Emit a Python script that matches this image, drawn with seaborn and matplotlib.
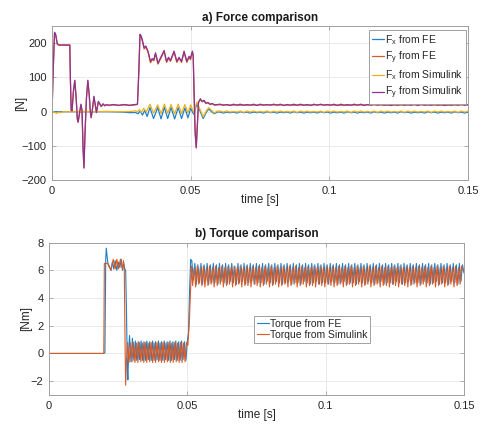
import numpy as np
import pandas as pd
import seaborn as sns
import matplotlib.pyplot as plt

# ---- force data (a) ----
# transient parts as (time [s], force [N]) points
fx_fe_pts = [(0, 0), (0.004, 0), (0.010, 0), (0.020, 0), (0.025, -1), (0.0285, -3),
             (0.0300, -2), (0.0310, -6), (0.0318, 2), (0.0326, -10), (0.0334, 4),
             (0.0343, -14), (0.0353, 12), (0.0366, -20), (0.0381, 12), (0.0393, -21),
             (0.0405, 13), (0.0417, -20), (0.0429, 12), (0.0442, -21), (0.0455, 12),
             (0.0467, -20), (0.0479, 11), (0.0490, -18), (0.0500, 10), (0.0507, -2),
             (0.0512, -8), (0.0517, 10), (0.0522, 22), (0.0532, 5), (0.0545, -20),
             (0.0556, -2), (0.0565, 8), (0.0575, 0), (0.0585, -6), (0.0596, -1)]
fx_sim_pts = [(0, 0), (0.0010, -2), (0.0017, -5), (0.0024, -1), (0.0030, -3), (0.0040, 0),
              (0.0070, 0), (0.0100, 1), (0.0150, 0), (0.0200, 1), (0.0250, 0), (0.0290, 1),
              (0.0300, 3), (0.0308, 0), (0.0315, 6), (0.0322, -2), (0.0330, 10), (0.0340, 0),
              (0.0353, 22), (0.0366, -4), (0.0381, 20), (0.0393, -5), (0.0405, 22),
              (0.0417, -4), (0.0429, 21), (0.0442, -6), (0.0455, 22), (0.0467, -5),
              (0.0479, 21), (0.0490, -3), (0.0500, 20), (0.0507, 5), (0.0512, -3),
              (0.0517, 15), (0.0522, 28), (0.0532, 10), (0.0545, -15), (0.0556, 2),
              (0.0565, 12), (0.0575, 4), (0.0585, -4), (0.0596, 2)]
fy_sim_pts = [(0, 0), (0.0004, 120), (0.0009, 232), (0.0013, 226), (0.0019, 198),
              (0.0025, 195), (0.0064, 195), (0.0066, 100), (0.0069, 5), (0.0072, 2),
              (0.0077, 60), (0.0082, 92), (0.0087, 40), (0.0091, -20), (0.0094, -30),
              (0.0099, -5), (0.0104, 22), (0.0108, 5), (0.0112, -110), (0.0115, -165),
              (0.0119, -60), (0.0124, 40), (0.0129, 92), (0.0134, 50), (0.0138, 0),
              (0.0141, -17), (0.0146, 10), (0.0151, 45), (0.0156, 20), (0.0160, -2),
              (0.0167, 30), (0.0173, 22), (0.0177, 16), (0.0184, 23), (0.0190, 18),
              (0.0197, 21), (0.0205, 19), (0.0220, 21), (0.0240, 19), (0.0260, 21),
              (0.0280, 19), (0.0300, 21), (0.0308, 22), (0.0313, 120), (0.0317, 226),
              (0.0321, 222), (0.0325, 212), (0.0332, 187), (0.0338, 192), (0.0346, 177),
              (0.0355, 147), (0.0361, 155), (0.0367, 152), (0.0373, 172), (0.0382, 142),
              (0.0394, 162), (0.0404, 179), (0.0413, 147), (0.0420, 159), (0.0427, 150),
              (0.0440, 177), (0.0450, 147), (0.0458, 159), (0.0467, 147), (0.0476, 177),
              (0.0486, 147), (0.0494, 162), (0.0499, 155), (0.0506, 177), (0.0509, 165),
              (0.0512, 60), (0.0516, -60), (0.0520, -106), (0.0524, -40), (0.0528, 28),
              (0.0535, 38), (0.0541, 30), (0.0548, 33), (0.0555, 25), (0.0562, 27),
              (0.0570, 22), (0.0578, 24), (0.0586, 20), (0.0596, 21)]
fy_fe_pts = [(0, 0), (0.0004, 118), (0.0009, 230), (0.0013, 224), (0.0019, 197),
             (0.0025, 194), (0.0064, 194), (0.0066, 98), (0.0069, 3), (0.0072, 1),
             (0.0077, 58), (0.0082, 90), (0.0087, 38), (0.0091, -22), (0.0094, -31),
             (0.0099, -6), (0.0104, 20), (0.0108, 3), (0.0112, -112), (0.0115, -163),
             (0.0119, -58), (0.0124, 38), (0.0129, 90), (0.0134, 48), (0.0138, -1),
             (0.0141, -18), (0.0146, 9), (0.0151, 43), (0.0156, 19), (0.0160, -3),
             (0.0167, 29), (0.0173, 21), (0.0177, 15), (0.0184, 22), (0.0190, 17),
             (0.0197, 20), (0.0205, 18), (0.0220, 20), (0.0240, 18), (0.0260, 20),
             (0.0280, 18), (0.0300, 20), (0.0308, 21), (0.0313, 118), (0.0317, 224),
             (0.0321, 219), (0.0325, 208), (0.0332, 183), (0.0338, 189), (0.0346, 174),
             (0.0355, 143), (0.0361, 152), (0.0367, 149), (0.0373, 169), (0.0382, 139),
             (0.0394, 159), (0.0404, 176), (0.0413, 144), (0.0420, 156), (0.0427, 147),
             (0.0440, 174), (0.0450, 144), (0.0458, 156), (0.0467, 144), (0.0476, 174),
             (0.0486, 144), (0.0494, 159), (0.0499, 152), (0.0506, 174), (0.0509, 162),
             (0.0512, 58), (0.0516, -62), (0.0520, -104), (0.0524, -38), (0.0528, 26),
             (0.0535, 36), (0.0541, 29), (0.0548, 31), (0.0555, 24), (0.0562, 26),
             (0.0570, 21), (0.0578, 23), (0.0586, 19), (0.0596, 20)]

# steady ripple from 0.0606 s to 0.15 s, evenly sampled
fx_fe_steady = [-1, -4, -1, -3, -1, -4, 0, -3, -1, -4, -1, -3, -1, -4, 0, -3, -1, -4, -1, -3,
                -1, -4, 0, -3, -1, -4, -1, -3, -1, -4, 0, -3, -1, -4, -1, -3, -1, -4, 0, -3,
                -1, -4, -1, -3, -1, -4, 0, -3, -1, -4, -1, -3, -1, -4, 0, -3, -1, -4, -1, -3,
                -1, -4, 0, -3, -1, -4, -1, -3, -1, -4, 0, -3, -1, -4, -1]
fx_sim_steady = [2, -1, 2, -1, 1, -1, 2, -2, 2, -1, 2, -1, 1, -1, 2, -2, 2, -1, 2, -1,
                 1, -1, 2, -2, 2, -1, 2, -1, 1, -1, 2, -2, 2, -1, 2, -1, 1, -1, 2, -2,
                 2, -1, 2, -1, 1, -1, 2, -2, 2, -1, 2, -1, 1, -1, 2, -2, 2, -1, 2, -1,
                 1, -1, 2, -2, 2, -1, 2, -1, 1, -1, 2, -2, 2, -1, 2]
fy_fe_steady = [20, 19, 20, 19, 20, 19, 20, 19, 20, 19, 20]
fy_sim_steady = [22, 19, 21, 18, 22, 19, 22, 19, 21, 19, 22, 18, 22, 19, 21, 19, 22, 19, 22, 18,
                 21, 19, 22, 19, 22, 19, 21, 18, 22, 19, 22, 19, 21, 19, 22, 18, 22, 19, 21, 19,
                 22, 19, 22, 18, 21, 19, 22, 19, 22, 19, 21, 18, 22, 19, 22, 19, 21, 19, 22, 18,
                 22, 19, 21, 19, 22, 19, 22, 18, 21, 19, 22, 19, 22, 19, 21]

# ---- torque data (b) ----
tq_fe_start = [(0, 0), (0.0198, 0), (0.0202, 0.05), (0.0205, 6.8), (0.0207, 7.6), (0.0210, 7.0),
               (0.0213, 6.5), (0.0218, 6.3), (0.0224, 6.0), (0.0229, 6.6), (0.0234, 6.1),
               (0.0239, 6.7), (0.0245, 6.0), (0.0250, 6.6), (0.0256, 6.2), (0.0261, 6.8),
               (0.0266, 6.0), (0.0270, 6.5), (0.0274, 6.1), (0.0277, 6.0), (0.0280, 3.0),
               (0.0283, -1.0), (0.0285, -1.9), (0.0288, 0.2)]
tq_fe_ripple1 = [1.3, -0.6, 1.1, -0.5, 0.9, -0.5, 0.85, -0.45, 0.9, -0.5, 0.85, -0.5, 0.9, -0.45,
                 0.85, -0.5, 0.9, -0.5, 0.85, -0.45, 0.9, -0.5, 0.85, -0.5, 0.9, -0.45, 0.85,
                 -0.5, 0.9, -0.5, 0.85, -0.45, 0.9, -0.5, 0.85, -0.5, 0.9, -0.45, 0.85, -0.5, 0.9]
tq_fe_rise = [(0.0504, 1.5), (0.0508, 4.5), (0.0512, 6.8)]
tq_fe_ripple2 = [6.7, 5.3, 6.5, 5.0, 6.4, 5.1, 6.5, 5.0, 6.4, 5.2,
                 6.5, 5.0, 6.4, 5.1, 6.5, 5.1, 6.4, 5.0, 6.5, 5.2,
                 6.4, 5.1, 6.5, 5.0, 6.4, 5.2, 6.5, 5.1, 6.3, 5.0,
                 6.5, 5.1, 6.4, 5.2, 6.5, 5.0, 6.4, 5.1, 6.5, 5.2,
                 6.4, 5.0, 6.5, 5.1, 6.4, 5.1, 6.5, 5.0, 6.4, 5.2,
                 6.5, 5.1, 6.4, 5.0, 6.5, 5.2, 6.4, 5.1, 6.5, 5.0,
                 6.4, 5.1, 6.5, 5.2, 6.4, 5.0, 6.5, 5.1, 6.4, 5.1,
                 6.5, 5.0, 6.4, 5.2, 6.5, 5.1, 6.4, 5.0, 6.5, 5.1,
                 6.4, 5.2, 6.5, 5.0, 6.4, 5.1, 6.5, 5.1, 6.4, 5.0,
                 6.5, 5.2, 6.4, 5.1, 6.5, 5.0, 6.4, 5.1, 6.5, 5.2,
                 6.4, 5.0, 6.5, 5.1, 6.4, 5.1, 6.5, 5.0, 6.4, 5.2,
                 6.5, 5.1, 6.4, 5.0, 6.5, 5.2, 6.4, 5.1, 6.5, 5.0,
                 6.4, 5.1, 6.5, 5.2, 6.4, 5.0, 6.5, 5.1, 6.4, 5.1,
                 6.5, 5.0, 6.4, 5.2, 6.5, 5.1, 6.4, 5.0, 6.5, 5.1,
                 6.4, 5.2, 6.5, 5.0, 6.4, 5.1, 6.5, 5.1, 6.4, 5.0,
                 6.5, 5.2, 6.4, 5.1, 6.5, 5.0, 6.4, 5.1, 6.5, 5.2,
                 6.4, 5.0, 6.5, 5.1, 6.4, 5.1, 6.5, 5.0, 6.4, 5.2,
                 6.5, 5.1, 6.4, 5.0, 6.5, 5.2, 6.4, 5.8]

tq_sim_start = [(0, 0), (0.0198, 0), (0.0200, 6.5), (0.0212, 6.5), (0.0218, 6.2), (0.0224, 6.0),
                (0.0232, 6.8), (0.0239, 6.1), (0.0245, 6.8), (0.0251, 6.1), (0.0258, 6.8),
                (0.0265, 6.1), (0.0269, 6.7), (0.0272, 6.1), (0.0275, 0.5), (0.0277, -2.3),
                (0.0280, -0.5)]
tq_sim_ripple1 = [0.8, -0.65, 0.75, -0.6, 0.8, -0.65, 0.75, -0.65, 0.8, -0.6, 0.75, -0.65, 0.8,
                  -0.65, 0.75, -0.6, 0.8, -0.65, 0.75, -0.65, 0.8, -0.6, 0.75, -0.65, 0.8, -0.65,
                  0.75, -0.6, 0.8, -0.65, 0.75, -0.65, 0.8, -0.6, 0.75, -0.65, 0.8, -0.65, 0.75,
                  -0.6, 0.8]
tq_sim_rise = [(0.0502, 0.6), (0.0507, 2.2), (0.0511, 4.2), (0.0515, 6.3)]
tq_sim_ripple2 = [4.9, 6.2, 4.8, 6.3, 5.0, 6.2, 4.9, 6.3, 4.8, 6.2,
                  4.9, 6.3, 5.0, 6.2, 4.8, 6.3, 4.9, 6.2, 5.0, 6.3,
                  4.8, 6.2, 4.9, 6.3, 5.0, 6.2, 4.8, 6.3, 4.9, 6.2,
                  5.0, 6.3, 4.8, 6.2, 4.9, 6.3, 4.9, 6.2, 4.8, 6.3,
                  5.0, 6.2, 4.9, 6.3, 4.8, 6.2, 4.9, 6.3, 5.0, 6.2,
                  4.8, 6.3, 4.9, 6.2, 5.0, 6.3, 4.8, 6.2, 4.9, 6.3,
                  5.0, 6.2, 4.8, 6.3, 4.9, 6.2, 5.0, 6.3, 4.8, 6.2,
                  4.9, 6.3, 5.0, 6.2, 4.8, 6.3, 4.9, 6.2, 4.9, 6.3,
                  4.8, 6.2, 5.0, 6.3, 4.9, 6.2, 4.8, 6.3, 5.0, 6.2,
                  4.9, 6.3, 4.8, 6.2, 4.9, 6.3, 5.0, 6.2, 4.8, 6.3,
                  4.9, 6.2, 5.0, 6.3, 4.8, 6.2, 4.9, 6.3, 5.0, 6.2,
                  4.8, 6.3, 4.9, 6.2, 5.0, 6.3, 4.8, 6.2, 4.9, 6.3,
                  5.0, 6.2, 4.8, 6.3, 4.9, 6.2, 4.9, 6.3, 4.8, 6.2,
                  5.0, 6.3, 4.9, 6.2, 4.8, 6.3, 5.0, 6.2, 4.9, 6.3,
                  4.8, 6.2, 4.9, 6.3, 5.0, 6.2, 4.8, 6.3, 4.9, 6.2,
                  5.0, 6.3, 4.8, 6.2, 4.9, 6.3, 5.0, 6.2, 4.8, 6.3,
                  4.9, 6.2, 5.0, 6.3, 4.8, 6.2, 4.9, 6.3, 5.0, 6.2,
                  4.8, 6.3, 4.9, 6.2, 5.0, 6.3, 6.0]

labels_force = ["F$_\\mathregular{x}$ from FE", "F$_\\mathregular{y}$ from FE",
                "F$_\\mathregular{x}$ from Simulink", "F$_\\mathregular{y}$ from Simulink"]
labels_torque = ["Torque from FE", "Torque from Simulink"]
colors = ["#1f7fc8", "#dc5a22", "#edb120", "#8b3592"]


def join(*parts):
    # lists of (t, v) points, or (t0, t1, values) on an even time grid
    ts, vs = [], []
    for p in parts:
        if isinstance(p, tuple):
            t0, t1, vals = p
            ts += list(np.linspace(t0, t1, len(vals)))
            vs += list(vals)
        else:
            ts += [a for a, b in p]
            vs += [b for a, b in p]
    return pd.DataFrame({"t": ts, "v": vs})


force = [join(fx_fe_pts, (0.0606, 0.15, fx_fe_steady)),
         join(fy_fe_pts, (0.0606, 0.15, fy_fe_steady)),
         join(fx_sim_pts, (0.0606, 0.15, fx_sim_steady)),
         join(fy_sim_pts, (0.0606, 0.15, fy_sim_steady))]
torque = [join(tq_fe_start, (0.0291, 0.0500, tq_fe_ripple1), tq_fe_rise,
               (0.0516, 0.1500, tq_fe_ripple2)),
          join(tq_sim_start, (0.0284, 0.0497, tq_sim_ripple1), tq_sim_rise,
               (0.0519, 0.1497, tq_sim_ripple2))]

sns.set_theme(style="whitegrid")
plt.rcParams["font.family"] = ["Liberation Sans", "DejaVu Sans"]
plt.rcParams["mathtext.fontset"] = "custom"
plt.rcParams["mathtext.rm"] = "Liberation Sans"

fig = plt.figure(figsize=(4.82, 4.28), dpi=100)
ax1 = fig.add_axes([0.108, 0.579, 0.863, 0.360])
ax2 = fig.add_axes([0.1017, 0.0771, 0.861, 0.356])

for df, c, lab in zip(force, colors, labels_force):
    sns.lineplot(data=df, x="t", y="v", ax=ax1, color=c, label=lab,
                 estimator=None, sort=False, linewidth=0.9)
for df, c, lab in zip(torque, colors[:2], labels_torque):
    sns.lineplot(data=df, x="t", y="v", ax=ax2, color=c, label=lab,
                 estimator=None, sort=False, linewidth=0.8)

ax1.set(xlim=(0, 0.15), ylim=(-200, 250), yticks=[-200, -100, 0, 100, 200])
ax2.set(xlim=(0, 0.15), ylim=(-3, 8), yticks=[-2, 0, 2, 4, 6, 8])

for ax, title, ylab, ylx in [(ax1, "a) Force comparison", "[N]", -0.06),
                             (ax2, "b) Torque comparison", "[Nm]", -0.041)]:
    ax.set_xticks([0, 0.05, 0.1, 0.15])
    ax.set_xticklabels(["0", "0.05", "0.1", "0.15"])
    ax.set_title(title, fontsize=8.5, fontweight="bold", pad=4, color="#1a1a1a")
    ax.set_xlabel("time [s]", fontsize=8.5, labelpad=-1, color="#262626")
    ax.set_ylabel(ylab, fontsize=8.5, color="#262626")
    ax.yaxis.set_label_coords(ylx, 0.5)
    ax.tick_params(direction="in", length=3, width=0.6, labelsize=8,
                   labelcolor="#262626", color="#a0a0a0",
                   top=True, right=True, bottom=True, left=True, pad=4)
    ax.grid(True, color="#e6e6e6", linewidth=0.6)
    for s in ax.spines.values():
        s.set_color("#a0a0a0")
        s.set_linewidth(0.7)

leg1 = ax1.legend(loc="upper right", bbox_to_anchor=(0.995, 0.975), fontsize=7.5,
                  handlelength=1.1, handletextpad=0.1, labelspacing=0.25,
                  borderpad=0.3, borderaxespad=0, fancybox=False, framealpha=1)
leg2 = ax2.legend(loc="upper left", bbox_to_anchor=(0.494, 0.519), fontsize=7.5,
                  handlelength=1.1, handletextpad=0.1, labelspacing=0.1,
                  borderpad=0.3, borderaxespad=0, fancybox=False, framealpha=1)
for leg in (leg1, leg2):
    leg.get_frame().set_edgecolor("#a0a0a0")
    leg.get_frame().set_linewidth(0.7)

fig.savefig("out.png", dpi=100)
